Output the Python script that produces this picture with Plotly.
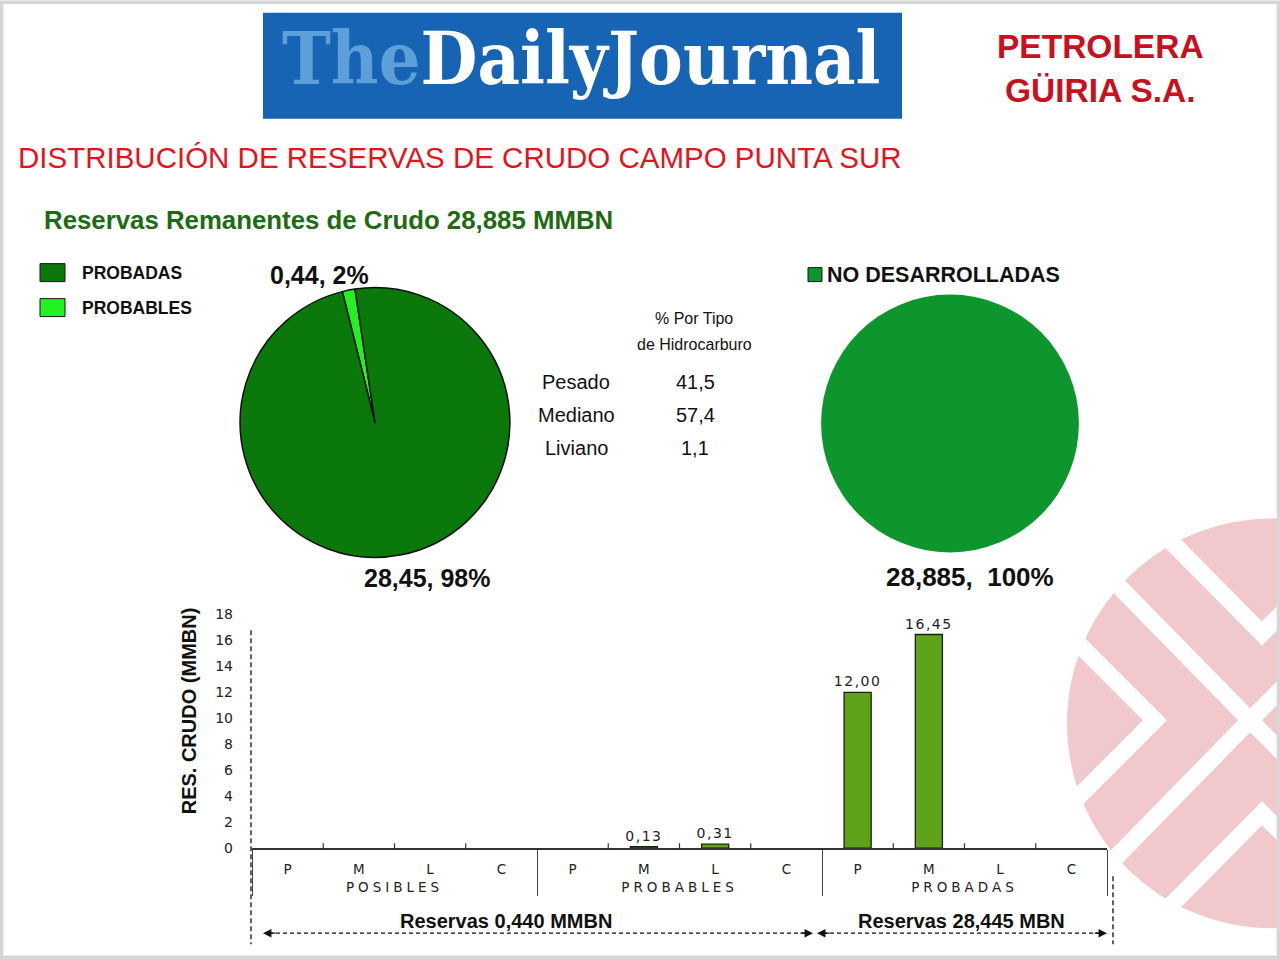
import plotly.graph_objects as go

W, H = 1280, 959

# the photographed page shows the figure slightly squeezed vertically
# (content lands at ~0.984*y + 7); positions below are given in reference
# pixels and mapped through the inverse of that.
Y_SCALE, Y_OFF = 0.984, 7.2


def px(x):
    return x / W


def py(y):
    return 1 - ((y - Y_OFF) / Y_SCALE) / H


# ---------------- data ----------------
pie_main_labels = ["PROBADAS", "PROBABLES"]
pie_main_values = [28.445, 0.44]
pie_main_text = ["28,45, 98%", "0,44, 2%"]
pie_main_colors = ["#0a780a", "#22f222"]

pie_dev_labels = ["NO DESARROLLADAS"]
pie_dev_values = [28.885]
pie_dev_text = ["28,885,  100%"]
pie_dev_colors = ["#0d962e"]

hc_header = ["% Por Tipo", "de Hidrocarburo"]
hc_types = ["Pesado", "Mediano", "Liviano"]
hc_pct = ["41,5", "57,4", "1,1"]

groups = ["POSIBLES", "PROBABLES", "PROBADAS"]
crude_types = ["P", "M", "L", "C"]
posibles = [0, 0, 0, 0]
probables = [0, 0.13, 0.31, 0]
probadas = [12.00, 16.45, 0, 0]
y_tick_vals = [0, 2, 4, 6, 8, 10, 12, 14, 16, 18]
span_labels = ["Reservas 0,440 MMBN", "Reservas 28,445 MBN"]

title_text = "DISTRIBUCIÓN DE RESERVAS DE CRUDO CAMPO PUNTA SUR"
subtitle_text = "Reservas Remanentes de Crudo 28,885 MMBN"
company_text = "PETROLERA<br>GÜIRIA S.A."
y_title = "RES. CRUDO (MMBN)"

# ---------------- styles ----------------
ARIAL = "Liberation Sans, Arial, sans-serif"
NARROW = "Liberation Sans Narrow, Arial Narrow, Liberation Sans, sans-serif"
WIDE = "DejaVu Sans, Verdana, sans-serif"
BAR_COLOR = "#5fa31a"

fig = go.Figure()

# pie 1 : probadas / probables (probables drawn first so it starts just left of 12 o'clock)
order = [1, 0]
fig.add_trace(go.Pie(
    labels=[pie_main_labels[i] for i in order],
    values=[pie_main_values[i] for i in order],
    marker=dict(colors=[pie_main_colors[i] for i in order],
                line=dict(color="#101010", width=1.5)),
    sort=False, direction="clockwise", rotation=-14,
    textinfo="none", hoverinfo="label+value+percent", showlegend=False,
    domain=dict(x=[px(240), px(510)], y=[py(557), py(287)]),
))

# pie 2 : no desarrolladas
fig.add_trace(go.Pie(
    labels=pie_dev_labels, values=pie_dev_values,
    marker=dict(colors=pie_dev_colors, line=dict(width=0)),
    sort=False, textinfo="none", showlegend=False,
    domain=dict(x=[px(821), px(1079)], y=[py(552), py(294)]),
))

# bar chart
xg, xc, yv = [], [], []
for g, vals in zip(groups, [posibles, probables, probadas]):
    for c, v in zip(crude_types, vals):
        xg.append(g)
        xc.append(c)
        yv.append(v)
bar_text = [f"{v:.2f}".replace(".", ",") if v > 0 else "" for v in yv]
bar_line_w = [1.3 if v > 0 else 0 for v in yv]

fig.add_trace(go.Bar(
    x=[xg, xc], y=yv, text=bar_text, textposition="outside",
    constraintext="none",
    textfont=dict(family=WIDE, size=14, color="#222"),
    marker=dict(color=BAR_COLOR, line=dict(color="#18220b", width=bar_line_w)),
    width=0.38, cliponaxis=False, showlegend=False,
    xaxis="x", yaxis="y",
))

shapes = []
annotations = []

# watermark (pink circle with white chevrons)
cx, cy, r = 1272, 723, 205
shapes.append(dict(type="circle", xref="paper", yref="paper", layer="below",
                   x0=px(cx - r), x1=px(cx + r), y0=py(cy + r), y1=py(cy - r),
                   fillcolor="#f1c9cd", line=dict(width=0)))


def path(pts):
    return "M " + " L ".join(f"{px(a):.5f},{py(b):.5f}" for a, b in pts)


for pts in [
    [(1076, 641), (1155, 720), (1076, 799)],
    [(1116, 583), (1250, 720), (1116, 857)],
    [(1250, 720), (1295, 675)],
    [(1250, 720), (1295, 765)],
    [(1168, 538), (1262, 633), (1300, 595)],
    [(1168, 908), (1262, 813), (1300, 851)],
]:
    shapes.append(dict(type="path", xref="paper", yref="paper", layer="below",
                       path=path(pts), line=dict(color="white", width=17)))

# page frame
shapes.append(dict(type="rect", xref="paper", yref="paper",
                   x0=px(1.5), x1=px(1278.5), y0=py(957), y1=py(1.5),
                   line=dict(color="#d6d6d6", width=3.5)))

# logo
shapes.append(dict(type="rect", xref="paper", yref="paper", layer="below",
                   x0=px(263), x1=px(902), y0=py(118), y1=py(12),
                   fillcolor="#1764b4", line=dict(width=0)))
annotations.append(dict(
    text="<span style='color:#5d9fd8'>The</span>DailyJournal",
    x=px(581), y=py(57), xref="paper", yref="paper", showarrow=False,
    xanchor="center", yanchor="middle",
    font=dict(family="DejaVu Serif Condensed, DejaVu Serif, serif", size=73,
              color="white", weight="bold")))

annotations.append(dict(
    text=company_text, x=px(1100), y=py(68), xref="paper", yref="paper",
    showarrow=False, xanchor="center", yanchor="middle", align="center",
    font=dict(family=ARIAL, size=33.5, color="#c8101e", weight="bold")))

annotations.append(dict(
    text=title_text, x=px(16), y=py(157), xref="paper", yref="paper",
    showarrow=False, xanchor="left", yanchor="middle",
    font=dict(family=ARIAL, size=29.5, color="#e3141c")))

annotations.append(dict(
    text=subtitle_text, x=px(42), y=py(219), xref="paper", yref="paper",
    showarrow=False, xanchor="left", yanchor="middle",
    font=dict(family=ARIAL, size=25.8, color="#1e6b14", weight="bold")))

# legend for pie 1
for i, (lab, col) in enumerate(zip(pie_main_labels, pie_main_colors)):
    yc = 272 + 35 * i
    shapes.append(dict(type="rect", xref="paper", yref="paper",
                       x0=px(40), x1=px(65), y0=py(yc + 9), y1=py(yc - 9),
                       fillcolor=col, line=dict(color="#1a1a1a", width=1)))
    annotations.append(dict(
        text=lab, x=px(80), y=py(yc), xref="paper", yref="paper",
        showarrow=False, xanchor="left", yanchor="middle",
        font=dict(family=ARIAL, size=17.5, color="#111", weight="bold")))

# legend for pie 2
shapes.append(dict(type="rect", xref="paper", yref="paper",
                   x0=px(808), x1=px(822), y0=py(281), y1=py(267),
                   fillcolor=pie_dev_colors[0], line=dict(color="#1a1a1a", width=1)))
annotations.append(dict(
    text=pie_dev_labels[0], x=px(825), y=py(274), xref="paper", yref="paper",
    showarrow=False, xanchor="left", yanchor="middle",
    font=dict(family=ARIAL, size=21.5, color="#111", weight="bold")))

# pie value labels
for txt, (x, y) in zip(pie_main_text, [(427, 578), (319, 274)]):
    annotations.append(dict(
        text=txt, x=px(x), y=py(y), xref="paper", yref="paper", showarrow=False,
        xanchor="center", yanchor="middle",
        font=dict(family=ARIAL, size=25, color="#111", weight="bold")))
annotations.append(dict(
    text=pie_dev_text[0], x=px(970), y=py(577), xref="paper", yref="paper",
    showarrow=False, xanchor="center", yanchor="middle",
    font=dict(family=ARIAL, size=26, color="#111", weight="bold")))

# hydrocarbon table
for txt, y in zip(hc_header, [318, 344]):
    annotations.append(dict(
        text=txt, x=px(694), y=py(y), xref="paper", yref="paper", showarrow=False,
        xanchor="center", yanchor="middle",
        font=dict(family=NARROW, size=16, color="#111")))
for i, (t, v) in enumerate(zip(hc_types, hc_pct)):
    y = 381 + 33.5 * i
    annotations.append(dict(
        text=t, x=px(576), y=py(y), xref="paper", yref="paper", showarrow=False,
        xanchor="center", yanchor="middle",
        font=dict(family=NARROW, size=20, color="#111")))
    annotations.append(dict(
        text=v, x=px(695), y=py(y), xref="paper", yref="paper", showarrow=False,
        xanchor="center", yanchor="middle",
        font=dict(family=NARROW, size=20, color="#111")))

# y-axis title
annotations.append(dict(
    text=y_title, x=px(189), y=py(711), xref="paper", yref="paper",
    showarrow=False, textangle=-90, xanchor="center", yanchor="middle",
    font=dict(family=ARIAL, size=20, color="#111", weight="bold")))

# small inside tick marks at category boundaries of the bar axis
x_left, x_right, y_zero, y_top = 252, 1107, 848, 614
n_cat = len(groups) * len(crude_types)
step = (x_right - x_left) / n_cat
for k in range(1, n_cat):
    if k % len(crude_types) == 0:
        continue
    xb = x_left + step * k
    shapes.append(dict(type="line", xref="paper", yref="paper",
                       x0=px(xb), x1=px(xb), y0=py(y_zero), y1=py(y_zero - 5),
                       line=dict(color="#333", width=1.2)))

# dashed verticals
shapes.append(dict(type="line", xref="paper", yref="paper",
                   x0=px(251), x1=px(251), y0=py(630), y1=py(944),
                   line=dict(color="#111", width=1.3, dash="5px,3px")))
shapes.append(dict(type="line", xref="paper", yref="paper",
                   x0=px(1113), x1=px(1113), y0=py(876), y1=py(944),
                   line=dict(color="#111", width=1.3, dash="5px,3px")))

# span arrows + labels
for (x0, x1), lab, xc_lab in zip([(263, 813), (817, 1107)], span_labels, [506, 961]):
    shapes.append(dict(type="line", xref="paper", yref="paper",
                       x0=px(x0 + 6), x1=px(x1 - 6), y0=py(933), y1=py(933),
                       line=dict(color="#111", width=1.3, dash="4px,3px")))
    for tip, off in [(x0, 14), (x1, -14)]:
        annotations.append(dict(
            text="", x=px(tip), y=py(933), xref="paper", yref="paper",
            showarrow=True, ax=off, ay=0, arrowhead=2, arrowsize=1.3,
            arrowwidth=1.3, arrowcolor="#111", standoff=0))
    annotations.append(dict(
        text=lab, x=px(xc_lab), y=py(921),
        xref="paper", yref="paper", showarrow=False,
        xanchor="center", yanchor="middle",
        font=dict(family=ARIAL, size=20, color="#111", weight="bold")))

fig.update_layout(
    width=W, height=H,
    margin=dict(l=0, r=0, t=0, b=0),
    paper_bgcolor="white", plot_bgcolor="rgba(0,0,0,0)",
    separators=",.",
    showlegend=False,
    shapes=shapes, annotations=annotations,
    xaxis=dict(
        type="multicategory", domain=[px(x_left), px(x_right)], anchor="y",
        showline=True, linecolor="#333", linewidth=1.5,
        tickson="labels", ticks="outside", ticklen=8, tickcolor="rgba(0,0,0,0)",
        tickfont=dict(family=WIDE, size=13.5, color="#222"),
        showdividers=True, dividercolor="#444", dividerwidth=1.3,
        showgrid=False, zeroline=False,
    ),
    yaxis=dict(
        domain=[py(y_zero), py(y_top)], range=[0, 18], tickvals=y_tick_vals,
        showgrid=False, zeroline=False, showline=False, ticks="",
        tickfont=dict(family=WIDE, size=14, color="#222"),
        ticklabelstandoff=18, anchor="x",
    ),
)

fig.write_html(
    "out.html",
    config={"displayModeBar": False},
    post_script=(
        "document.documentElement.style.overflow='hidden';"
        "document.body.style.margin='0';document.body.style.overflow='hidden';"
        "var d=document.getElementById('{plot_id}');"
        "d.style.position='fixed';d.style.top='0px';d.style.left='0px';"
        "var s=document.createElement('style');"
        "s.textContent='.xtick2 text{letter-spacing:4px} .bartext{letter-spacing:1.5px}';"
        "document.head.appendChild(s);"
    ),
)
